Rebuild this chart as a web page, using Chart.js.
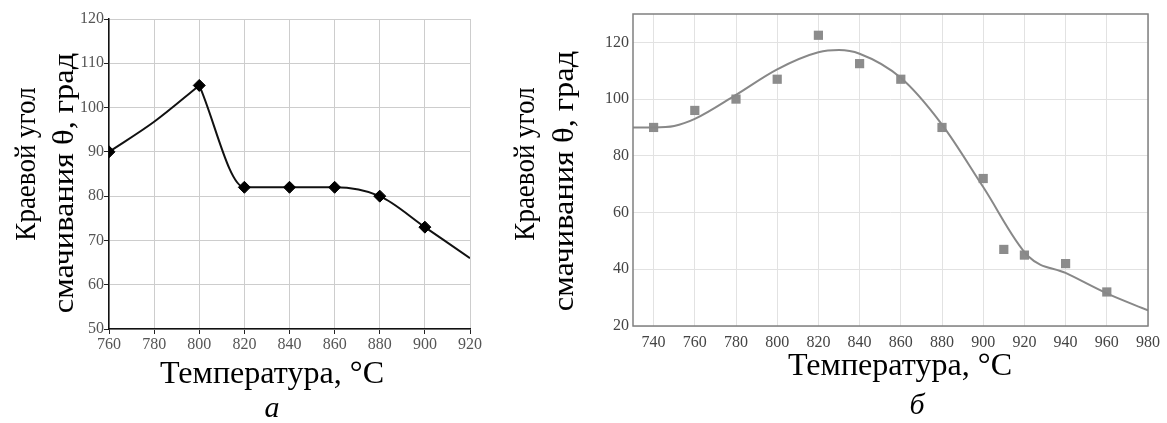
<!DOCTYPE html>
<html>
<head>
<meta charset="utf-8">
<script src="https://cdn.jsdelivr.net/npm/chart.js@4.4.1/dist/chart.umd.min.js"></script>
<style>
  body { margin: 0; background: #fff; width: 1167px; height: 423px; overflow: hidden; position: relative; }
  canvas { position: absolute; top: 0; }
  .t { position: absolute; font-family: 'Liberation Serif', 'Times New Roman', serif; font-size: 30px; color: #000;
       white-space: nowrap; transform: translate(-50%, -50%); line-height: 1; }
  .h { transform: translate(-50%, -50%) scale(1.07, 1.08); }
  .v1 { transform: translate(-50%, -50%) rotate(-90deg) scaleX(0.9); }
  .v2 { transform: translate(-50%, -50%) rotate(-90deg) scaleX(1.08); }
  .i { font-style: italic; }
</style>
</head>
<body>
<canvas id="chartA" width="500" height="360" style="left:0"></canvas>
<canvas id="chartB" width="667" height="360" style="left:500px"></canvas>

<div class="t v1" style="left:25px; top:164px">Краевой угол</div>
<div class="t v2" style="left:63px; top:183px">смачивания θ, град</div>
<div class="t h" style="left:272px; top:372px">Температура, °C</div>
<div class="t i" style="left:272px; top:407px">а</div>

<div class="t v1" style="left:524px; top:164px">Краевой угол</div>
<div class="t v2" style="left:563px; top:181px">смачивания θ, град</div>
<div class="t h" style="left:900px; top:364px">Температура, °C</div>
<div class="t i" style="left:917px; top:404px">б</div>

<script>
// (а) measured points and the drawn curve (rise up to the peak, then the fall)
const tempA = [760, 800, 820, 840, 860, 880, 900];
const angleA = [90, 105, 82, 82, 82, 80, 73];
const riseTempA = [760, 780, 800];
const riseAngleA = [90, 96.8, 105];
const fallTempA = [800, 820, 840, 860, 880, 900, 920];
const fallAngleA = [105, 82, 82, 82, 80, 73, 66];
const xTicksA = [760, 780, 800, 820, 840, 860, 880, 900, 920];
const yTicksA = [50, 60, 70, 80, 90, 100, 110, 120];

// (б) measured points and the fitted curve
const tempB = [740, 760, 780, 800, 820, 840, 860, 880, 900, 910, 920, 940, 960];
const angleB = [90, 96, 100, 107, 122.5, 112.5, 107, 90, 72, 47, 45, 42, 32];
const fitTempB = [730, 740, 750, 760, 780, 800, 820, 830, 840, 860, 880, 900, 922, 940, 960, 980];
const fitAngleB = [90, 90, 90.5, 93, 101.5, 110.5, 116.5, 117.3, 116, 107.5, 91, 69, 44.5, 38.7, 31.5, 25.5];
const xTicksB = [740, 760, 780, 800, 820, 840, 860, 880, 900, 920, 940, 960, 980];
const yTicksB = [20, 40, 60, 80, 100, 120];

const serif = 'Liberation Serif';
const pts = (xs, ys) => xs.map((x, i) => ({ x: x, y: ys[i] }));
const fixTicks = list => scale => { scale.ticks = list.map(v => ({ value: v })); };

const curveA = (xs, ys) => ({
    data: pts(xs, ys),
    showLine: true,
    pointRadius: 0,
    borderColor: '#111',
    borderWidth: 2,
    cubicInterpolationMode: 'monotone'
});

const frame = {
    id: 'frame',
    afterDraw(chart) {
        const a = chart.chartArea, c = chart.ctx;
        c.save();
        c.strokeStyle = '#808080';
        c.lineWidth = 1.5;
        c.strokeRect(a.left, a.top, a.right - a.left, a.bottom - a.top);
        c.restore();
    }
};

new Chart(document.getElementById('chartA'), {
    type: 'scatter',
    data: {
        datasets: [
            {
                data: pts(tempA, angleA),
                pointStyle: 'rectRot',
                pointRadius: 6,
                backgroundColor: '#000',
                borderColor: '#000',
                borderWidth: 1
            },
            curveA(riseTempA, riseAngleA),
            curveA(fallTempA, fallAngleA)
        ]
    },
    options: {
        responsive: false,
        animation: false,
        layout: { padding: { top: 19, right: 30, left: 0, bottom: 0 } },
        plugins: { legend: { display: false }, tooltip: { enabled: false } },
        scales: {
            x: {
                min: 760, max: 920,
                afterBuildTicks: fixTicks(xTicksA),
                afterFit: s => { s.height = 31; },
                grid: { color: '#cdcdcd', tickColor: '#222', tickLength: 5 },
                border: { color: '#111', width: 1.5 },
                ticks: { font: { family: serif, size: 16 }, color: '#555', padding: 1, maxRotation: 0 }
            },
            y: {
                min: 50, max: 120,
                afterBuildTicks: fixTicks(yTicksA),
                afterFit: s => { s.width = 109; },
                grid: { color: '#cdcdcd', tickColor: '#222', tickLength: 5 },
                border: { color: '#111', width: 1.5 },
                ticks: { font: { family: serif, size: 16 }, color: '#555', padding: 0 }
            }
        }
    }
});

new Chart(document.getElementById('chartB'), {
    type: 'scatter',
    data: {
        datasets: [
            {
                data: pts(fitTempB, fitAngleB),
                showLine: true,
                pointRadius: 0,
                borderColor: '#888',
                borderWidth: 2,
                cubicInterpolationMode: 'monotone'
            },
            {
                data: pts(tempB, angleB),
                pointStyle: 'rect',
                pointRadius: 6.5,
                backgroundColor: '#8c8c8c',
                borderColor: '#8c8c8c',
                borderWidth: 0
            }
        ]
    },
    options: {
        responsive: false,
        animation: false,
        layout: { padding: { top: 14, right: 14, left: 0, bottom: 0 } },
        plugins: { legend: { display: false }, tooltip: { enabled: false } },
        scales: {
            x: {
                min: 730, max: 980,
                afterBuildTicks: fixTicks(xTicksB),
                afterFit: s => { s.height = 34; },
                grid: { color: '#e2e2e2', drawTicks: false },
                border: { display: false },
                ticks: { font: { family: serif, size: 16 }, color: '#444', padding: 7, maxRotation: 0 }
            },
            y: {
                min: 20, max: 130,
                afterBuildTicks: fixTicks(yTicksB),
                afterFit: s => { s.width = 133; },
                grid: { color: '#e2e2e2', drawTicks: false },
                border: { display: false },
                ticks: { font: { family: serif, size: 16 }, color: '#444', padding: 4 }
            }
        }
    },
    plugins: [frame]
});
</script>
</body>
</html>
